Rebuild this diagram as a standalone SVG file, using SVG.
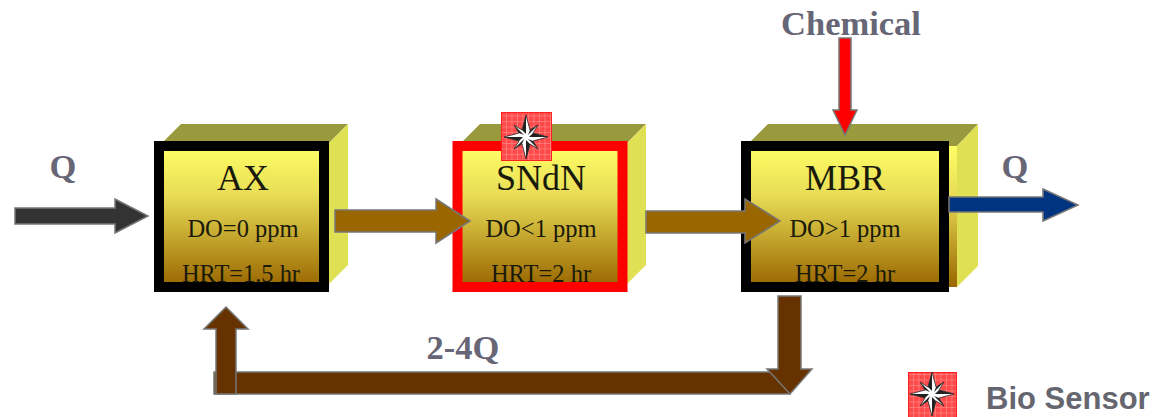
<svg xmlns="http://www.w3.org/2000/svg" width="1155" height="417" viewBox="0 0 1155 417">
<style>
.top{fill:#99993d}
.side{fill:#e0e055}
.front{fill:url(#grad)}
.t1{font:36px "Liberation Serif",serif;fill:#1a1a0a;text-anchor:middle}
.t2{font:24.5px "Liberation Serif",serif;fill:#1a1a0a;text-anchor:middle}
.t3{font:bold 34.5px "Liberation Serif",serif;fill:#666677;text-anchor:middle}
.t4{font:bold 31px "Liberation Sans",sans-serif;fill:#666670}
.arrow{stroke:#777;stroke-width:1.5;stroke-linejoin:miter}
.sensor{fill:url(#grid);stroke:#ff2020;stroke-width:1}
</style>
<defs>
<linearGradient id="grad" x1="0" y1="0" x2="0" y2="1">
<stop offset="0" stop-color="#ffff66"/>
<stop offset="0.35" stop-color="#e8dc55"/>
<stop offset="1" stop-color="#996600"/>
</linearGradient>
<pattern id="grid" width="5.500" height="5.500" patternUnits="userSpaceOnUse">
<rect width="5.500" height="5.500" fill="#ff4a4a"/>
<path d="M0 0H5.500M0 0V5.500" stroke="#ff9c9c" stroke-width="1" fill="none"/>
</pattern>
<g id="star">
<polygon points="0,-22 4,-7 12,-12 7,-4 22,0 7,4 12,12 4,7 0,22 -4,7 -12,12 -7,4 -22,0 -7,-4 -12,-12 -4,-7" fill="#ffffff" stroke="#222" stroke-width="0.800"/>
<polygon points="0,-22 -4,-7 0,-3" fill="#222"/>
<polygon points="22,0 7,-4 3,0" fill="#222"/>
<polygon points="0,22 4,7 0,3" fill="#222"/>
<polygon points="-22,0 -7,4 -3,0" fill="#222"/>
<polygon points="12,-12 4,-7 2,-2" fill="#222"/>
<polygon points="12,12 7,4 2,2" fill="#222"/>
<polygon points="-12,12 -4,7 -2,2" fill="#222"/>
<polygon points="-12,-12 -7,-4 -2,-2" fill="#222"/>
</g>
</defs>
<rect width="1155" height="417" fill="#fff"/>

<g id="node-ax">
<polygon class="top" points="162,143 181,124 348,124 329,143"/>
<polygon class="side" points="329,143 348,124 348,265 329,284"/>
<rect x="159" y="146" width="165" height="141" class="front" stroke="#000" stroke-width="10"/>
<text class="t1" x="243" y="190">AX</text>
<text class="t2" x="243" y="237">DO=0 ppm</text>
<text class="t2" x="241" y="282" textLength="118" lengthAdjust="spacingAndGlyphs">HRT=1.5 hr</text>
</g>

<g id="node-sndn">
<polygon class="top" points="461,143 480,124 646,124 627,143"/>
<polygon class="side" points="627,143 646,124 646,265 627,284"/>
<rect x="457.500" y="146" width="165" height="141" class="front" stroke="#ff0000" stroke-width="10"/>
<text class="t1" x="541" y="190" font-size="34">SNdN</text>
<text class="t2" x="541" y="237">DO&lt;1 ppm</text>
<text class="t2" x="541" y="282">HRT=2 hr</text>
</g>

<g id="node-sensor">
<rect class="sensor" x="501.500" y="112.500" width="50" height="48"/>
<use href="#star" x="526" y="137"/>
</g>

<g id="node-mbr">
<polygon class="top" points="749,143 768,124 978,124 957,146 949,146 949,143"/>
<polygon class="side" points="957,146 978,124 978,266 957,287"/>
<rect x="945" y="146" width="12" height="141" class="front"/>
<rect x="746" y="146" width="198" height="141" class="front" stroke="#000" stroke-width="10"/>
<text class="t1" x="845" y="190">MBR</text>
<text class="t2" x="845" y="237">DO&gt;1 ppm</text>
<text class="t2" x="845" y="282">HRT=2 hr</text>
</g>

<g id="connectors">
<polygon class="arrow" fill="#333333" points="15,208 115,208 115,199 148,216 115,233 115,224 15,224"/>
<polygon class="arrow" fill="#996600" points="335,210 436,210 436,199 470,221 436,243 436,232 335,232"/>
<polygon class="arrow" fill="#996600" points="646,211 745,211 745,199 780,221 745,243 745,233 646,233"/>
<polygon class="arrow" fill="#003380" points="949,197 1043,197 1043,189 1078,205 1043,221 1043,212 949,212"/>
<polygon class="arrow" fill="#ff0000" points="839,38 851,38 851,110 857,110 845,135 833,110 839,110"/>
<polygon class="arrow" fill="#663300" points="214,372 790,372 790,394 214,394"/>
<polygon class="arrow" fill="#663300" points="216,394 216,329 204,329 226,307 248,329 236,329 236,394"/>
<polygon class="arrow" fill="#663300" points="778,296 801,296 801,369 812,369 790,394 767,369 778,369"/>
</g>

<g id="labels">
<text class="t3" x="63" y="178">Q</text>
<text class="t3" x="851" y="35">Chemical</text>
<text class="t3" x="1015" y="178">Q</text>
<text class="t3" x="463" y="359">2-4Q</text>
</g>

<g id="legend">
<rect class="sensor" x="908.500" y="372.500" width="48" height="48"/>
<use href="#star" x="932" y="394"/>
<text class="t4" x="986" y="409">Bio Sensor</text>
</g>
</svg>
